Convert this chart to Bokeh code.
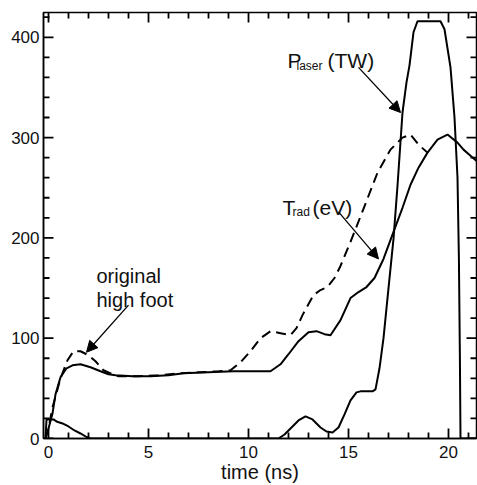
import math
from bokeh.plotting import figure
from bokeh.models import Range1d, Label, Arrow, NormalHead, FixedTicker
from bokeh.embed import file_html
from bokeh.resources import INLINE

# ---- data ----
laser_t = [-0.15, -0.1, 0.25, 0.4, 0.7, 1.0, 1.3, 1.6, 1.9, 2.1, 11.5, 11.8, 12.1, 12.5,
           12.85, 13.2, 13.6, 13.9, 14.2, 14.5, 14.8, 15.1, 15.4, 15.6, 16.2, 16.35, 16.55,
           16.75, 17.0, 17.25, 17.45, 17.7, 17.9, 18.05, 18.25, 18.45, 19.6, 19.8, 20.1,
           20.3, 20.45, 20.52, 20.57, 20.6, 21.4]
laser_v = [0, 19, 19, 17, 15, 12, 8, 5, 1.5, 0, 0, 4, 10, 18,
           22, 19, 11, 7, 6, 11, 24, 38, 46, 47, 47, 49, 70,
           100, 150, 199, 252, 325, 355, 372, 405, 416, 416, 408, 370,
           320, 260, 180, 80, 0, 0]

trad_t = [-0.15, 0.0, 0.2, 0.35, 0.6, 0.9, 1.2, 1.6, 2.1, 2.6, 3.0, 3.35, 4.2, 5.1, 6.0,
          6.75, 8.0, 9.25, 10.5, 11.1, 11.6, 12.0, 12.5, 13.0, 13.4, 13.8, 14.1, 14.6,
          15.1, 15.5, 15.9, 16.3, 16.75, 17.25, 17.7, 18.1, 18.5, 18.95, 19.45, 19.95,
          20.45, 20.75, 21.1, 21.45]
trad_v = [0, 10, 25, 44, 61, 70, 73, 74, 71, 67, 64, 63, 62, 62, 63,
          65, 66, 67, 67, 67, 74, 84, 97, 106, 107, 104, 103, 118,
          140, 146, 151, 160, 179, 206, 230, 253, 270, 285, 298, 303,
          295, 288, 282, 276]

foot_t = [-0.15, 0.0, 0.2, 0.6, 0.95, 1.25, 1.6, 2.0, 2.35, 2.75, 3.1, 3.5, 4.5, 5.5,
          6.5, 7.5, 8.5, 9.1, 9.6, 10.1, 10.6, 11.1, 11.6, 12.1, 12.4, 12.7, 13.25,
          13.6, 13.95, 14.3, 14.6, 15.1, 15.75, 16.45, 17.1, 17.7, 18.1, 18.5, 18.95]
foot_v = [0, 10, 31, 60, 78, 87, 87, 83, 77, 68, 65, 62, 62, 63,
          65, 66, 67, 68, 76, 87, 100, 107, 105, 103, 110, 123, 143,
          148, 151, 160, 172, 196, 229, 265, 288, 300, 303, 293, 285]

x_major = [0, 5, 10, 15, 20]
x_minor = [t for t in range(0, 22) if t not in x_major]
y_major = [0, 100, 200, 300, 400]
y_minor = [v for v in range(0, 425, 20) if v not in y_major]

# annotations: (text, x, y, font size)
labels = [
    ("original", 2.4, 162.0, "20px"),
    ("high foot", 2.4, 138.5, "20px"),
    ("P", 11.95, 377.0, "21px"),
    ("laser", 12.4, 371.5, "12px"),
    ("(TW)", 13.95, 377.0, "21px"),
    ("T", 11.7, 230.7, "21px"),
    ("rad", 12.2, 225.5, "12px"),
    ("(eV)", 13.2, 230.7, "21px"),
]
# arrows: (x_start, y_start, x_end, y_end)
arrows = [
    (4.0, 133.0, 1.9, 86.0),
    (15.5, 370.0, 17.6, 325.0),
    (14.5, 226.0, 16.5, 179.0),
]
xlabel_text = "time (ns)"

FONT = "Liberation Sans"
X0, X1 = -0.25, 21.4
Y0, Y1 = 0.0, 424.7

p = figure(width=477, height=485, output_backend="svg", toolbar_location=None,
           x_range=Range1d(X0, X1), y_range=Range1d(Y0, Y1),
           min_border_left=43, min_border_right=1, min_border_top=12, min_border_bottom=44)
p.background_fill_color = "white"
p.border_fill_color = "white"
p.outline_line_color = "black"
p.outline_line_width = 1.5
p.xgrid.visible = False
p.ygrid.visible = False

for ax, ticks in ((p.xaxis[0], x_major), (p.yaxis[0], y_major)):
    ax.ticker = FixedTicker(ticks=ticks)
    ax.axis_line_color = "black"
    ax.axis_line_width = 1.5
    ax.major_tick_in = 0
    ax.major_tick_out = 0
    ax.minor_tick_in = 0
    ax.minor_tick_out = 0
    ax.major_label_text_font = FONT
    ax.major_label_text_font_size = "17px"
    ax.major_label_text_color = "#111111"
    ax.major_label_text_line_height = 1.0
p.xaxis[0].major_label_standoff = 7
p.yaxis[0].major_label_standoff = 4
p.xaxis[0].axis_label = xlabel_text
p.xaxis[0].axis_label_text_font = FONT
p.xaxis[0].axis_label_text_font_size = "20px"
p.xaxis[0].axis_label_text_font_style = "normal"
p.xaxis[0].axis_label_text_color = "#111111"
p.xaxis[0].axis_label_standoff = 0
p.xaxis[0].axis_label_text_line_height = 1.0

# inward tick marks: "dash" markers centred on each frame edge; the half
# outside the frame is clipped away, leaving a tick pointing inward.
for ticks, size in ((x_major, 20), (x_minor, 12)):
    for edge in (Y0, Y1):
        p.scatter(x=ticks, y=[edge] * len(ticks), marker="dash", size=size,
                  angle=math.pi / 2, line_color="black", line_width=1.8)
for ticks, size in ((y_major, 20), (y_minor, 12)):
    for edge in (X0, X1):
        p.scatter(x=[edge] * len(ticks), y=ticks, marker="dash", size=size,
                  angle=0.0, line_color="black", line_width=1.8)

p.line(laser_t, laser_v, line_color="black", line_width=2)
p.line(trad_t, trad_v, line_color="black", line_width=2)
p.line(foot_t, foot_v, line_color="black", line_width=2, line_dash="10 6")

for txt, x, y, fs in labels:
    p.add_layout(Label(x=x, y=y, text=txt, text_font=FONT, text_font_size=fs,
                       text_color="#111111", text_baseline="alphabetic"))

for xs, ys, xe, ye in arrows:
    p.add_layout(Arrow(x_start=xs, y_start=ys, x_end=xe, y_end=ye,
                       line_color="black", line_width=1.3,
                       end=NormalHead(size=11, fill_color="black", line_color="black")))

open("out.html", "w").write(file_html(p, INLINE))
